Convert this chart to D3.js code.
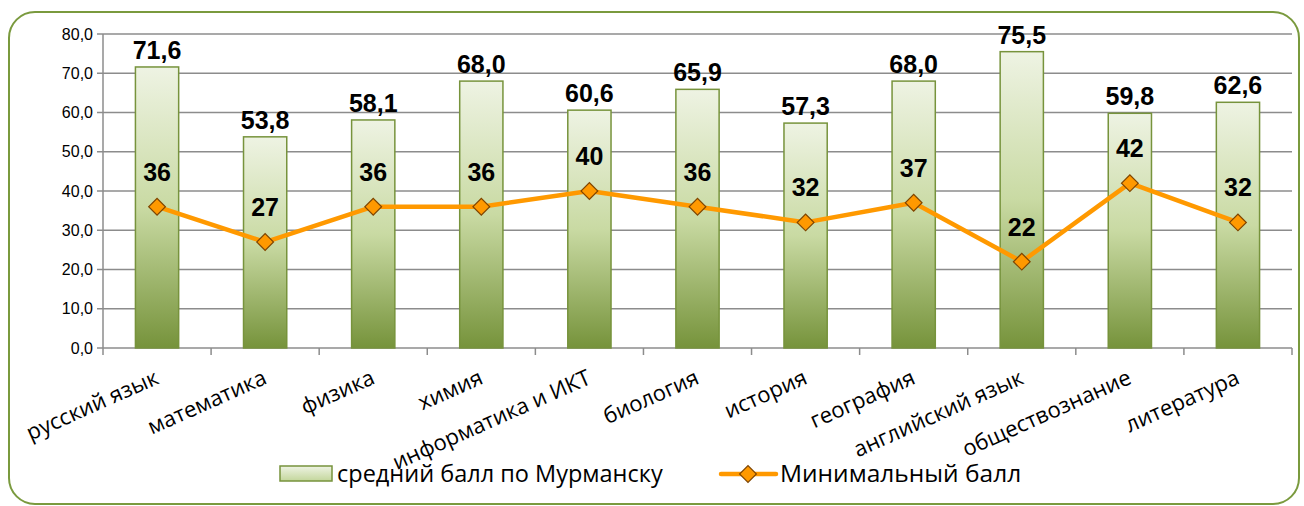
<html>
<head>
<meta charset="utf-8">
<script src="https://d3js.org/d3.v7.min.js"></script>
<style>
body { margin: 0; background: #fff; }
svg text { font-family: Arial, "Liberation Sans", sans-serif; }
</style>
</head>
<body>
<div id="chart"></div>
<script>

var subjects = ["русский язык", "математика", "физика", "химия", "информатика и ИКТ", "биология",
	"история", "география", "английский язык", "обществознание", "литература"];
var avgScore = [71.6, 53.8, 58.1, 68.0, 60.6, 65.9, 57.3, 68.0, 75.5, 59.8, 62.6];
var minScore = [36, 27, 36, 36, 40, 36, 32, 37, 22, 42, 32];
var yTicks = [0, 10, 20, 30, 40, 50, 60, 70, 80];
var barName = "средний балл по Мурманску";
var lineName = "Минимальный балл";

var width = 1304, height = 506;
var plotLeft = 103, plotRight = 1292, plotTop = 34, plotBottom = 348;

var svg = d3.select("#chart").append("svg")
	.attr("width", width).attr("height", height);

var defs = svg.append("defs");
var grad = defs.append("linearGradient").attr("id", "barGrad")
	.attr("x1", 0).attr("y1", 0).attr("x2", 0).attr("y2", 1);
grad.append("stop").attr("offset", "0%").attr("stop-color", "#eef3e3");
grad.append("stop").attr("offset", "50%").attr("stop-color", "#c9daa3");
grad.append("stop").attr("offset", "100%").attr("stop-color", "#76933b");

var legGrad = defs.append("linearGradient").attr("id", "legGrad")
	.attr("x1", 0).attr("y1", 0).attr("x2", 0).attr("y2", 1);
legGrad.append("stop").attr("offset", "0%").attr("stop-color", "#eef3e3");
legGrad.append("stop").attr("offset", "100%").attr("stop-color", "#c3d69b");

// outer frame
svg.append("rect")
	.attr("x", 9).attr("y", 12).attr("width", 1290).attr("height", 492)
	.attr("rx", 26).attr("ry", 26)
	.style("fill", "#fff").style("stroke", "#7a9a3e").style("stroke-width", 2);

var x = d3.scaleBand().domain(subjects).range([plotLeft, plotRight]).paddingInner(0).paddingOuter(0);
var y = d3.scaleLinear().domain([0, 80]).range([plotBottom, plotTop]);

// gridlines
svg.append("g").selectAll("line").data(yTicks).enter().append("line")
	.attr("x1", plotLeft - 6).attr("x2", plotRight)
	.attr("y1", function (d) { return y(d); })
	.attr("y2", function (d) { return y(d); })
	.style("stroke", "#8c8c8c").style("stroke-width", 1.5);

svg.append("line")
	.attr("x1", plotLeft).attr("x2", plotLeft).attr("y1", plotTop).attr("y2", plotBottom)
	.style("stroke", "#8c8c8c").style("stroke-width", 1.5);

svg.append("g").selectAll("text").data(yTicks).enter().append("text")
	.attr("x", plotLeft - 10)
	.attr("y", function (d) { return y(d) + 5.5; })
	.attr("text-anchor", "end")
	.style("font-size", "16px").style("fill", "#000")
	.text(function (d) { return d3.format(".1f")(d).replace(".", ","); });

// category ticks
var bounds = subjects.map(function (s) { return x(s); }).concat([plotRight]);
svg.append("g").selectAll("line").data(bounds).enter().append("line")
	.attr("x1", function (d) { return d; }).attr("x2", function (d) { return d; })
	.attr("y1", plotBottom).attr("y2", plotBottom + 7)
	.style("stroke", "#8c8c8c").style("stroke-width", 1.5);

// bars
var bw = x.bandwidth() * 0.4;
svg.append("g").selectAll("rect").data(subjects).enter().append("rect")
	.attr("x", function (d) { return x(d) + (x.bandwidth() - bw) / 2; })
	.attr("y", function (d, i) { return y(avgScore[i]); })
	.attr("width", bw)
	.attr("height", function (d, i) { return plotBottom - y(avgScore[i]); })
	.style("fill", "url(#barGrad)").style("stroke", "#77933c").style("stroke-width", 1.5);

svg.append("g").selectAll("text").data(subjects).enter().append("text")
	.attr("x", function (d) { return x(d) + x.bandwidth() / 2; })
	.attr("y", function (d, i) { return y(avgScore[i]) - 8; })
	.attr("text-anchor", "middle")
	.style("font-size", "25px").style("font-weight", "bold")
	.text(function (d, i) { return avgScore[i].toFixed(1).replace(".", ","); });

// line
var line = d3.line()
	.x(function (d, i) { return x(subjects[i]) + x.bandwidth() / 2; })
	.y(function (d) { return y(d); });

svg.append("path").datum(minScore).attr("d", line)
	.style("fill", "none").style("stroke", "#ff9900").style("stroke-width", 4.5)
	.style("stroke-linejoin", "round");

var diamond = d3.symbol().type(d3.symbolSquare).size(140);
svg.append("g").selectAll("path").data(minScore).enter().append("path")
	.attr("d", diamond)
	.attr("transform", function (d, i) {
		return "translate(" + (x(subjects[i]) + x.bandwidth() / 2) + "," + y(d) + ") rotate(45)";
	})
	.style("fill", "#ff9900").style("stroke", "#7f4500").style("stroke-width", 1.2);

svg.append("g").selectAll("text").data(minScore).enter().append("text")
	.attr("x", function (d, i) { return x(subjects[i]) + x.bandwidth() / 2; })
	.attr("y", function (d) { return y(d) - 26; })
	.attr("text-anchor", "middle")
	.style("font-size", "25px").style("font-weight", "bold")
	.text(function (d) { return d; });

// category labels
svg.append("g").selectAll("text").data(subjects).enter().append("text")
	.attr("transform", function (d) {
		return "translate(" + (x(d) + x.bandwidth() / 2 + 3) + "," + (plotBottom + 35) + ") rotate(-24)";
	})
	.attr("text-anchor", "end")
	.style("font-family", "'Open Sans', sans-serif")
	.style("font-size", "22px")
	.text(function (d) { return d; });

// legend
var leg = svg.append("g");
leg.append("rect").attr("x", 280).attr("y", 466).attr("width", 52).attr("height", 15)
	.style("fill", "url(#legGrad)").style("stroke", "#77933c").style("stroke-width", 1.5);
leg.append("text").attr("x", 337).attr("y", 482)
	.style("font-family", "'Open Sans', sans-serif").style("font-size", "23.5px")
	.text(barName);
leg.append("line").attr("x1", 721).attr("x2", 776).attr("y1", 474).attr("y2", 474)
	.style("stroke", "#ff9900").style("stroke-width", 4.5).style("stroke-linecap", "round");
leg.append("path").attr("d", diamond)
	.attr("transform", "translate(748,474) rotate(45)")
	.style("fill", "#ff9900").style("stroke", "#7f4500").style("stroke-width", 1.2);
leg.append("text").attr("x", 780).attr("y", 482)
	.style("font-family", "'Open Sans', sans-serif").style("font-size", "24.5px")
	.text(lineName);

</script>
</body>
</html>
